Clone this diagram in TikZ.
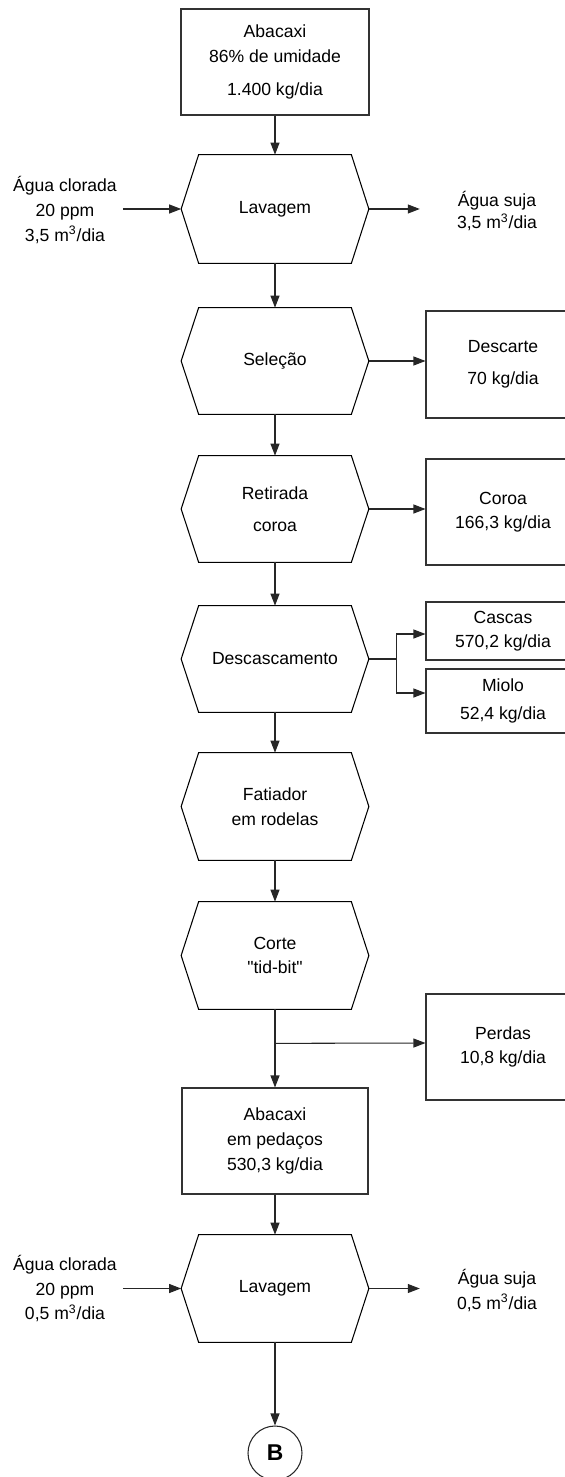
\documentclass[tikz,border=0pt]{standalone}
\usepackage{fontspec}
\setmainfont{Liberation Sans}
\usetikzlibrary{arrows.meta}

\begin{document}
\begin{tikzpicture}[font=\fontsize{10}{14}\selectfont,
    caixa/.style={draw=black!80, line width=0.6pt, minimum width=3.74cm, minimum height=2.12cm, align=center, inner sep=2pt},
    residuo/.style={caixa, minimum width=3.08cm},
    etapa/.style={minimum width=3.74cm, minimum height=2.14cm, align=center, inner sep=2pt},
    fluxo/.style={-{Triangle[length=2.4mm, width=1.8mm]}, line width=0.6pt, black!85},
    agua/.style={align=center}]
    \useasboundingbox (0,0) rectangle (11.3,-29.54);
    % Materia-prima
    \node[caixa, minimum width=3.76cm] (abac) at (5.5,-1.24) {Abacaxi\\86\% de umidade\\[5pt]1.400 kg/dia};
    % Etapas do processo
    \node[etapa, minimum height=2.16cm] (lav1) at (5.5,-4.18) {Lavagem};
    \node[etapa, minimum height=2.12cm] (sel) at (5.5,-7.22) {Seleção};
    \node[etapa, minimum height=2.12cm] (ret) at (5.5,-10.18) {Retirada\\[4pt]coroa};
    \node[etapa, minimum height=2.12cm] (desc) at (5.5,-13.18) {Descascamento};
    \node[etapa] (fat) at (5.5,-16.13) {Fatiador\\em rodelas};
    \node[etapa] (corte) at (5.5,-19.11) {Corte\\\textquotedbl tid-bit\textquotedbl};
    \node[caixa, minimum width=3.72cm] (ped) at (5.5,-22.82) {Abacaxi\\em pedaços\\530,3 kg/dia};
    \node[etapa] (lav2) at (5.5,-25.77) {Lavagem};
    \node[draw=black!85, line width=0.6pt, circle, minimum size=1.08cm, inner sep=0pt,
      font=\fontsize{13}{15}\selectfont\bfseries] (conB) at (5.5,-29.06) {B};
    % Hexagonos
    \foreach \n in {lav1,sel,ret,desc,fat,corte,lav2}
      \draw[line width=0.6pt] (\n.west) -- ([xshift=3.5mm]\n.north west) -- ([xshift=-3.5mm]\n.north east)
        -- (\n.east) -- ([xshift=-3.5mm]\n.south east) -- ([xshift=3.5mm]\n.south west) -- cycle;
    % Residuos
    \node[residuo, minimum height=2.14cm] (descarte) at (10.06,-7.29) {Descarte\\[4pt]70 kg/dia};
    \node[residuo] (coroa) at (10.06,-10.24) {Coroa\\166,3 kg/dia};
    \node[residuo, minimum height=1.16cm] (cascas) at (10.06,-12.62) {Cascas\\570,2 kg/dia};
    \node[residuo, minimum height=1.28cm] (miolo) at (10.06,-14.02) {Miolo\\[2pt]52,4 kg/dia};
    \node[residuo] (perdas) at (10.06,-20.94) {Perdas\\10,8 kg/dia};
    % Agua
    \node[agua] (ent1) at (1.3,-4.2) {Água clorada\\20 ppm\\3,5 m\textsuperscript{3}/dia};
    \node[agua, font=\fontsize{10}{12.5}\selectfont] (sai1) at (9.94,-4.22) {Água suja\\3,5 m\textsuperscript{3}/dia};
    \node[agua] (ent2) at (1.3,-25.77) {Água clorada\\20 ppm\\0,5 m\textsuperscript{3}/dia};
    \node[agua] (sai2) at (9.94,-25.81) {Água suja\\0,5 m\textsuperscript{3}/dia};
    % Fluxo principal
    \draw[fluxo] (abac) -- (lav1);
    \draw[fluxo] (lav1) -- (sel);
    \draw[fluxo] (sel) -- (ret);
    \draw[fluxo] (ret) -- (desc);
    \draw[fluxo] (desc) -- (fat);
    \draw[fluxo] (fat) -- (corte);
    \draw[fluxo] (corte) -- (ped);
    \draw[fluxo] (ped) -- (lav2);
    \draw[fluxo] (lav2) -- (conB);
    % Entradas e saidas
    \draw[fluxo] (ent1.east |- lav1.west) -- (lav1.west);
    \draw[fluxo, shorten >=6.2mm] (lav1.east) -- (lav1.east -| sai1.west);
    \draw[fluxo] (ent2.east |- lav2.west) -- (lav2.west);
    \draw[fluxo, shorten >=6.2mm] (lav2.east) -- (lav2.east -| sai2.west);
    \draw[fluxo] (sel.east) -- (sel.east -| descarte.west);
    \draw[fluxo] (ret.east) -- (ret.east -| coroa.west);
    \coordinate (ram) at ([xshift=5.6mm]desc.east);
    \draw[line width=0.6pt, black!85] (desc.east) -- (ram);
    \draw[fluxo] (ram) |- ([yshift=-0.6mm]cascas.west);
    \draw[fluxo] (ram) |- ([yshift=1.6mm]miolo.west);
    \coordinate (jun) at ([yshift=-6.8mm]corte.south);
    \draw[fluxo] (jun) -- ([yshift=0.8mm]perdas.west);
\end{tikzpicture}
\end{document}
